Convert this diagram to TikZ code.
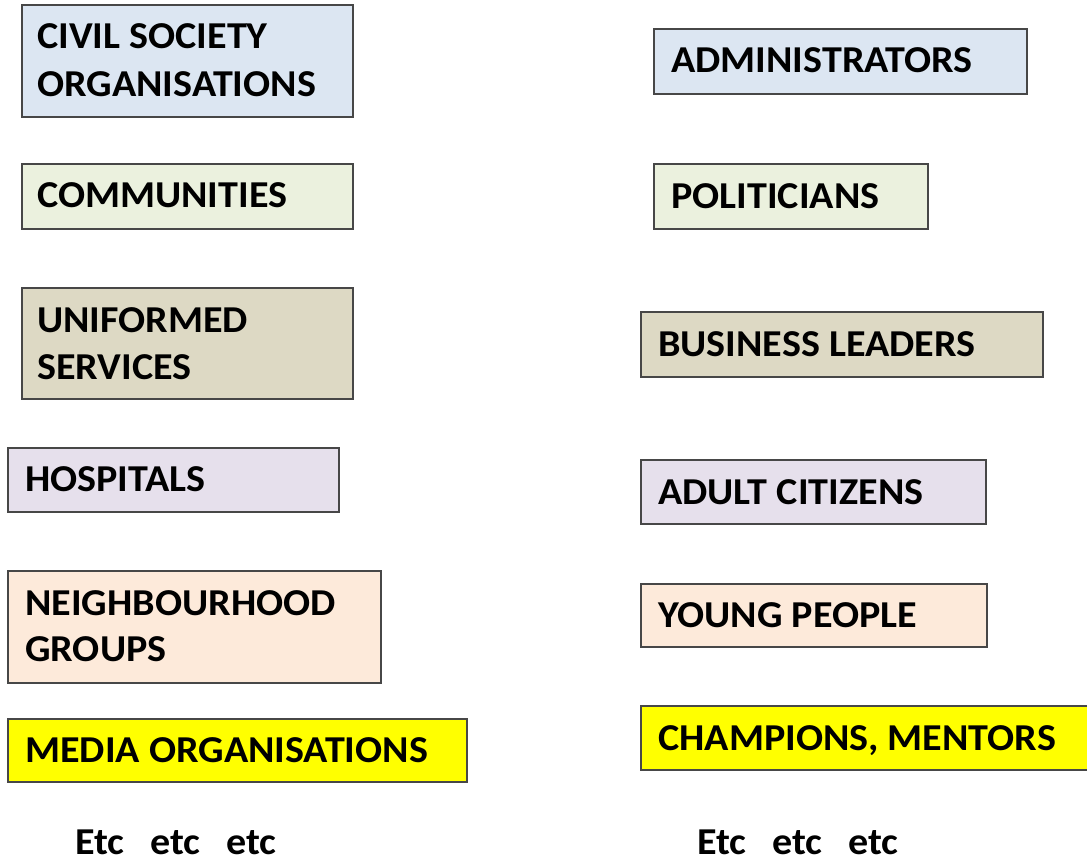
\documentclass[tikz,border=0pt]{standalone}
\usepackage{fontspec}
\setmainfont{Carlito}[FakeStretch=1.055]
\definecolor{cblue}{HTML}{DCE6F2}
\definecolor{cgreen}{HTML}{EBF1DE}
\definecolor{ctan}{HTML}{DDD9C4}
\definecolor{clav}{HTML}{E6E0EC}
\definecolor{cpeach}{HTML}{FDEADA}
\definecolor{cyell}{HTML}{FFFF00}
\definecolor{cedge}{HTML}{474747}
\tikzset{
  box/.style={draw=cedge, line width=1.6pt, rectangle, inner sep=0pt, anchor=north west},
  lbl/.style={anchor=base west, inner sep=0pt, font=\fontsize{38}{47}\selectfont\bfseries}
}
\begin{document}
\begin{tikzpicture}[x=1pt,y=-1pt]
\useasboundingbox (0,0) rectangle (1087,856);
\clip (0,0) rectangle (1087,856);
% left column
\node[box, fill=cblue, minimum width=331pt, minimum height=112pt] (cso) at (21,4) {};
\node[lbl] (csot1) at (37,49) {CIVIL SOCIETY};
\node[lbl] (csot2) at (37,97) {ORGANISATIONS};
\node[box, fill=cgreen, minimum width=331pt, minimum height=65pt] (com) at (21,163) {};
\node[lbl] (comt) at (37,207) {COMMUNITIES};
\node[box, fill=ctan, minimum width=331pt, minimum height=111pt] (uni) at (21,287) {};
\node[lbl] (unit1) at (37,332) {UNIFORMED};
\node[lbl] (unit2) at (37,379) {SERVICES};
\node[box, fill=clav, minimum width=331pt, minimum height=64pt] (hos) at (7,447) {};
\node[lbl] (host) at (25,491) {HOSPITALS};
\node[box, fill=cpeach, minimum width=373pt, minimum height=112pt] (nei) at (7,570) {};
\node[lbl] (neit1) at (25,615) {NEIGHBOURHOOD};
\node[lbl] (neit2) at (25,661) {GROUPS};
\node[box, fill=cyell, minimum width=459pt, minimum height=63pt] (med) at (7,718) {};
\node[lbl] (medt) at (25,762) {MEDIA ORGANISATIONS};
\node[lbl] (etcl) at (75,854) {Etc\hspace{26pt}etc\hspace{26pt}etc};
% right column
\node[box, fill=cblue, minimum width=373pt, minimum height=65pt] (adm) at (653,28) {};
\node[lbl] (admt) at (671,73) {ADMINISTRATORS};
\node[box, fill=cgreen, minimum width=274pt, minimum height=65pt] (pol) at (653,163) {};
\node[lbl] (polt) at (671,208) {POLITICIANS};
\node[box, fill=ctan, minimum width=402pt, minimum height=65pt] (bus) at (640,311) {};
\node[lbl] (bust) at (658,356) {BUSINESS LEADERS};
\node[box, fill=clav, minimum width=345pt, minimum height=64pt] (adu) at (640,459) {};
\node[lbl] (adut) at (658,504) {ADULT CITIZENS};
\node[box, fill=cpeach, minimum width=346pt, minimum height=63pt] (you) at (640,583) {};
\node[lbl] (yout) at (658,627) {YOUNG PEOPLE};
\node[box, fill=cyell, minimum width=460pt, minimum height=64pt] (cha) at (640,705) {};
\node[lbl] (chat) at (658,750) {CHAMPIONS, MENTORS};
\node[lbl] (etcr) at (697,854) {Etc\hspace{26pt}etc\hspace{26pt}etc};
\end{tikzpicture}
\end{document}
